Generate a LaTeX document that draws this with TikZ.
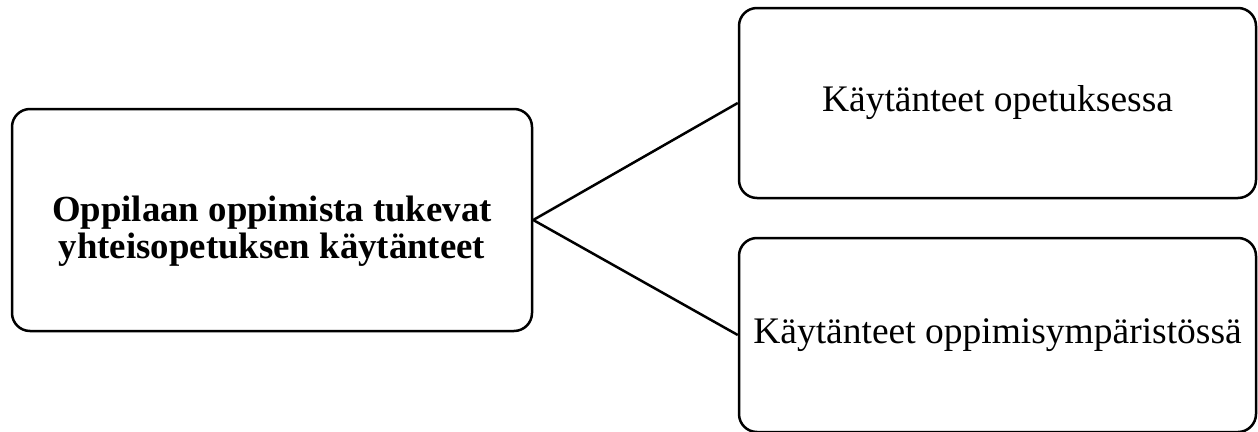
\documentclass[tikz,border=0pt]{standalone}
\usepackage{fontspec}
\setmainfont{Liberation Serif}
\begin{document}
\begin{tikzpicture}[x=1pt,y=1pt,
  box/.style={draw=black,line width=2.5pt,rounded corners=18pt,rectangle,inner sep=0pt,font=\fontsize{37.5}{38}\selectfont,align=center},
  boldtext/.style={inner sep=0pt,align=center,font=\fontsize{36.8}{37}\selectfont\bfseries},
  conn/.style={draw=black,line width=2.5pt}]
\useasboundingbox (0,0) rectangle (1258,-431);
\node[box,minimum width=520pt,minimum height=222pt] (main) at (272,-220) {};
\node[boldtext] (maintext) at ([yshift=-11pt]main.center) {Oppilaan oppimista tukevat\\yhteisopetuksen käytänteet};
\node[box,minimum width=517pt,minimum height=190pt] (top) at (997.5,-103) {Käytänteet opetuksessa};
\node[box,minimum width=517pt,minimum height=194pt] (bot) at (997.5,-335) {Käytänteet oppimisympäristössä};
\draw[conn] (main.east) -- (top.west);
\draw[conn] (main.east) -- (bot.west);
\end{tikzpicture}
\end{document}
